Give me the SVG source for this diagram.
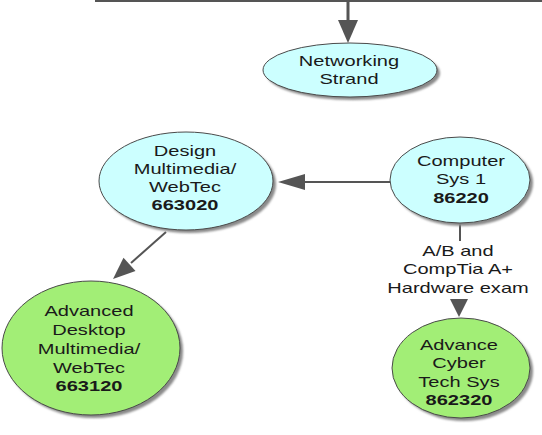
<svg xmlns="http://www.w3.org/2000/svg" width="542" height="435" viewBox="0 0 542 435">
<defs>
<filter id="sh" x="-20%" y="-20%" width="150%" height="150%">
<feGaussianBlur stdDeviation="1.2"/>
</filter>
<style>
.t{font-family:"Liberation Sans",Arial,sans-serif;font-size:15.2px;fill:#1a1a1a;text-anchor:middle}
.b{font-weight:bold}
.cy{fill:#ccffff;stroke:#4a4a4a;stroke-width:1}
.gr{fill:#a2ee76;stroke:#4a4a4a;stroke-width:1}
.sd{fill:#8a8a8a;filter:url(#sh)}
.ln{stroke:#555;stroke-width:2;fill:none}
.ah{fill:#555}
</style>
</defs>
<rect width="542" height="435" fill="#fff"/>
<g id="connectors">
<line class="ln" x1="95" y1="1" x2="542" y2="1"/>
<line class="ln" x1="348" y1="0" x2="348" y2="22" style="stroke-width:3"/>
<polygon class="ah" points="338,20 358,20 348,43"/>
<line class="ln" x1="391" y1="182" x2="303" y2="182"/>
<polygon class="ah" points="305,174 305,190 278,182"/>
<line class="ln" x1="166" y1="232" x2="131" y2="263"/>
<polygon class="ah" points="135.5,271.1 123.5,257.7 113,279"/>
<line class="ln" x1="460" y1="223" x2="460" y2="241"/>
<polygon class="ah" points="450,299 468,299 459,317"/>
<g class="t" transform="translate(458,0) scale(1.32,1)">
<text x="0" y="256">A/B and</text>
<text x="0" y="274.5">CompTia A+</text>
<text x="0" y="293">Hardware exam</text>
</g>
</g>
<g id="networking">
<ellipse class="sd" cx="353" cy="73" rx="87" ry="27"/>
<ellipse class="cy" cx="350" cy="70" rx="87" ry="27"/>
<g class="t" transform="translate(349,0) scale(1.32,1)">
<text x="0" y="66">Networking</text>
<text x="0" y="84.5">Strand</text>
</g>
</g>
<g id="design">
<ellipse class="sd" cx="189" cy="184" rx="87" ry="49"/>
<ellipse class="cy" cx="186" cy="181" rx="87" ry="49"/>
<g class="t" transform="translate(185,0) scale(1.32,1)">
<text x="0" y="156">Design</text>
<text x="0" y="174">Multimedia/</text>
<text x="0" y="192.5">WebTec</text>
<text x="0" y="210.5" class="b">663020</text>
</g>
</g>
<g id="computer">
<ellipse class="sd" cx="463" cy="183" rx="70" ry="43"/>
<ellipse class="cy" cx="460" cy="180" rx="70" ry="43"/>
<g class="t" transform="translate(461,0) scale(1.32,1)">
<text x="0" y="166">Computer</text>
<text x="0" y="184.5">Sys 1</text>
<text x="0" y="203" class="b">86220</text>
</g>
</g>
<g id="advanced-desktop">
<ellipse class="sd" cx="94" cy="351" rx="89" ry="67"/>
<ellipse class="gr" cx="91" cy="348" rx="89" ry="67"/>
<g class="t" transform="translate(89,0) scale(1.32,1)">
<text x="0" y="316">Advanced</text>
<text x="0" y="335">Desktop</text>
<text x="0" y="354">Multimedia/</text>
<text x="0" y="373">WebTec</text>
<text x="0" y="391" class="b">663120</text>
</g>
</g>
<g id="advance-cyber">
<ellipse class="sd" cx="464" cy="371" rx="69" ry="50"/>
<ellipse class="gr" cx="461" cy="368" rx="69" ry="50"/>
<g class="t" transform="translate(459,0) scale(1.32,1)">
<text x="0" y="350">Advance</text>
<text x="0" y="368.5">Cyber</text>
<text x="0" y="387">Tech Sys</text>
<text x="0" y="405.5" class="b">862320</text>
</g>
</g>
</svg>
